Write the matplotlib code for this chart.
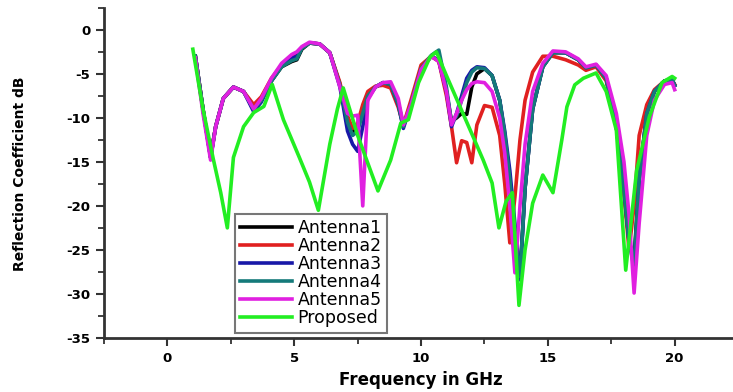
import matplotlib
matplotlib.use("Agg")
import matplotlib.pyplot as plt
from matplotlib.ticker import MultipleLocator

plt.rcParams['axes.unicode_minus'] = False
plt.rcParams['font.family'] = 'DejaVu Sans'

# frequency grid (GHz) shared by the five antenna curves
freq = [1.1, 1.4, 1.7, 1.9, 2.2, 2.6, 3.0, 3.4, 3.7, 4.1,
        4.5, 4.9, 5.1, 5.3, 5.6, 6.0, 6.4, 6.8, 7.1, 7.3,
        7.5, 7.7, 7.9, 8.2, 8.5, 8.8, 9.1, 9.3, 9.6, 10.0,
        10.4, 10.7, 11.0, 11.2, 11.4, 11.6, 11.8, 12.0, 12.2, 12.5,
        12.8, 13.1, 13.3, 13.5, 13.7, 13.9, 14.1, 14.4, 14.8, 15.2,
        15.7, 16.2, 16.5, 16.9, 17.3, 17.7, 18.0, 18.2, 18.4, 18.6,
        18.9, 19.2, 19.6, 19.9, 20.0]

ant1 = [-3.0, -9.0, -14.5, -11.0, -7.8, -6.5, -7.0, -9.0, -8.0, -5.8,
        -4.2, -3.6, -3.4, -2.2, -1.5, -1.6, -2.6, -6.2, -10.0, -11.6,
        -11.0, -9.2, -7.5, -6.5, -6.0, -6.2, -8.3, -10.8, -8.5, -4.5,
        -3.0, -3.5, -7.0, -10.4, -10.0, -9.5, -9.6, -6.5, -5.0, -4.4,
        -5.2, -8.0, -12.0, -18.0, -24.5, -27.8, -18.0, -9.0, -4.2, -2.6,
        -2.6, -3.4, -4.3, -4.0, -5.5, -11.0, -18.5, -24.0, -26.0, -17.0,
        -9.5, -7.0, -5.8, -5.7, -6.3]

ant2 = [-3.0, -9.0, -14.3, -11.0, -7.8, -6.5, -7.0, -8.5, -7.6, -5.5,
        -4.0, -3.0, -2.6, -2.0, -1.5, -1.6, -2.6, -6.0, -9.8, -11.2,
        -10.6, -8.5, -7.0, -6.4, -6.3, -6.6, -8.8, -10.8, -8.0, -4.0,
        -3.0, -3.6, -7.5, -11.0, -15.1, -12.6, -12.8, -15.1, -10.8, -8.6,
        -8.8, -12.0, -17.5, -24.2, -19.0, -12.5, -8.0, -4.8, -3.0, -3.0,
        -3.4, -4.0, -4.6, -4.2, -5.8, -11.0, -18.5, -25.0, -20.0, -12.0,
        -8.5, -6.8, -5.8, -5.8, -6.2]

ant3 = [-3.0, -9.0, -14.5, -11.0, -7.8, -6.5, -7.0, -9.3, -8.2, -5.8,
        -4.0, -3.2, -3.0, -2.0, -1.5, -1.6, -2.6, -6.5, -11.5, -13.0,
        -13.8, -11.0, -7.8, -6.5, -6.0, -6.2, -8.5, -11.2, -8.5, -4.5,
        -3.0, -3.5, -7.0, -11.0, -9.5, -7.5, -5.5, -4.6, -4.2, -4.3,
        -5.2, -8.0, -11.5, -16.0, -22.0, -28.4, -18.0, -9.0, -4.2, -2.5,
        -2.6, -3.4, -4.3, -4.0, -5.5, -11.0, -18.0, -24.0, -27.0, -17.0,
        -9.5, -7.0, -5.8, -5.6, -6.3]

ant4 = [-3.0, -9.0, -14.5, -11.0, -7.8, -6.5, -7.0, -9.0, -8.0, -5.8,
        -4.2, -3.5, -3.3, -2.1, -1.5, -1.6, -2.6, -6.3, -10.5, -12.0,
        -11.5, -9.5, -7.5, -6.5, -6.0, -6.2, -8.4, -11.0, -8.5, -4.4,
        -2.9, -2.3, -6.5, -10.6, -9.8, -8.0, -6.0, -4.8, -4.3, -4.4,
        -5.2, -8.0, -11.8, -17.0, -23.5, -28.0, -18.0, -9.0, -4.2, -2.6,
        -2.6, -3.4, -4.3, -4.0, -5.5, -11.0, -18.2, -24.0, -26.5, -17.0,
        -9.5, -7.0, -5.8, -5.7, -6.3]

ant5 = [-3.2, -9.5, -14.8, -11.0, -7.8, -6.5, -7.0, -9.0, -7.8, -5.5,
        -3.8, -2.8, -2.5, -1.9, -1.4, -1.6, -2.6, -6.5, -9.5, -9.8,
        -9.7, -20.0, -8.0, -6.5, -6.0, -5.9, -7.8, -10.8, -8.5, -4.5,
        -3.0, -3.6, -7.0, -10.8, -9.5, -8.0, -6.8, -6.1, -5.9, -6.0,
        -7.0, -10.0, -14.0, -20.0, -27.6, -20.0, -13.0, -7.0, -3.8, -2.4,
        -2.5, -3.3, -4.2, -3.9, -5.2, -9.5, -15.0, -21.0, -29.9, -22.0,
        -12.0, -8.0, -6.2, -6.0, -6.8]

prop_f = [1.0, 1.4, 1.8, 2.1, 2.36, 2.6, 3.0, 3.4, 3.8, 4.13,
          4.57, 5.2, 5.6, 5.95, 6.4, 6.7, 6.93, 7.5, 8.3, 8.8,
          9.2, 9.5, 9.9, 10.35, 10.6, 11.0, 11.5, 12.0, 12.45, 12.8,
          13.07, 13.35, 13.6, 13.86, 14.1, 14.4, 14.8, 15.2, 15.55, 15.75,
          16.06, 16.4, 16.9, 17.3, 17.7, 18.07, 18.5, 19.0, 19.5, 19.9, 20.0]
prop = [-2.2, -9.0, -14.6, -18.5, -22.5, -14.5, -11.0, -9.4, -8.7, -6.2,
        -10.2, -14.5, -17.3, -20.5, -13.0, -9.0, -6.6, -12.0, -18.3, -14.8,
        -10.6, -10.2, -6.0, -3.1, -2.5, -5.2, -8.5, -11.8, -14.8, -17.4,
        -22.5, -19.5, -18.5, -31.3, -25.0, -19.7, -16.5, -18.5, -12.5, -8.75,
        -6.25, -5.5, -4.9, -7.0, -11.4, -27.3, -16.0, -9.9, -6.0, -5.3, -5.5]

fig = plt.figure(figsize=(7.33, 3.92), dpi=100)
ax = fig.add_axes([0.142, 0.138, 0.858, 0.842])

lw = 2.6
ax.plot(freq, ant1, color='#000000', lw=lw, label='Antenna1')
ax.plot(freq, ant2, color='#e02020', lw=lw, label='Antenna2')
ax.plot(freq, ant3, color='#1818a8', lw=lw, label='Antenna3')
ax.plot(freq, ant4, color='#147a7a', lw=lw, label='Antenna4')
ax.plot(freq, ant5, color='#e020e0', lw=lw, label='Antenna5')
ax.plot(prop_f, prop, color='#22ee22', lw=lw, label='Proposed')

ax.set_xlim(-2.5, 22.3)
ax.set_ylim(-35, 2.5)
ax.set_xticks([0, 5, 10, 15, 20])
ax.set_yticks([-35, -30, -25, -20, -15, -10, -5, 0])
ax.xaxis.set_minor_locator(MultipleLocator(2.5))
ax.yaxis.set_minor_locator(MultipleLocator(2.5))

for s in ['top', 'right']:
    ax.spines[s].set_visible(False)
for s in ['left', 'bottom']:
    ax.spines[s].set_linewidth(2)
    ax.spines[s].set_color('#333333')

ax.tick_params(which='major', length=6, width=1.5, color='#333333', pad=4)
ax.tick_params(which='minor', length=4, width=1.3, color='#333333')
for lab in ax.get_xticklabels() + ax.get_yticklabels():
    lab.set_fontweight('bold')
    lab.set_fontsize(9.5)

ax.set_xlabel('Frequency in GHz', fontsize=12, fontweight='bold')
ax.set_ylabel('Reflection Coefficient dB', fontsize=10, fontweight='bold')
ax.xaxis.set_label_coords(0.504, -0.10)
ax.yaxis.set_label_coords(-0.122, 0.497)

leg = ax.legend(loc='lower left', bbox_to_anchor=(0.208, 0.016), borderaxespad=0,
                fontsize=12.5, handlelength=3.0, handletextpad=0.3,
                labelspacing=0.0, borderpad=0.3, fancybox=False, framealpha=1)
leg.get_frame().set_edgecolor('#777777')
leg.get_frame().set_linewidth(1.5)

fig.savefig('out.png', dpi=100)
